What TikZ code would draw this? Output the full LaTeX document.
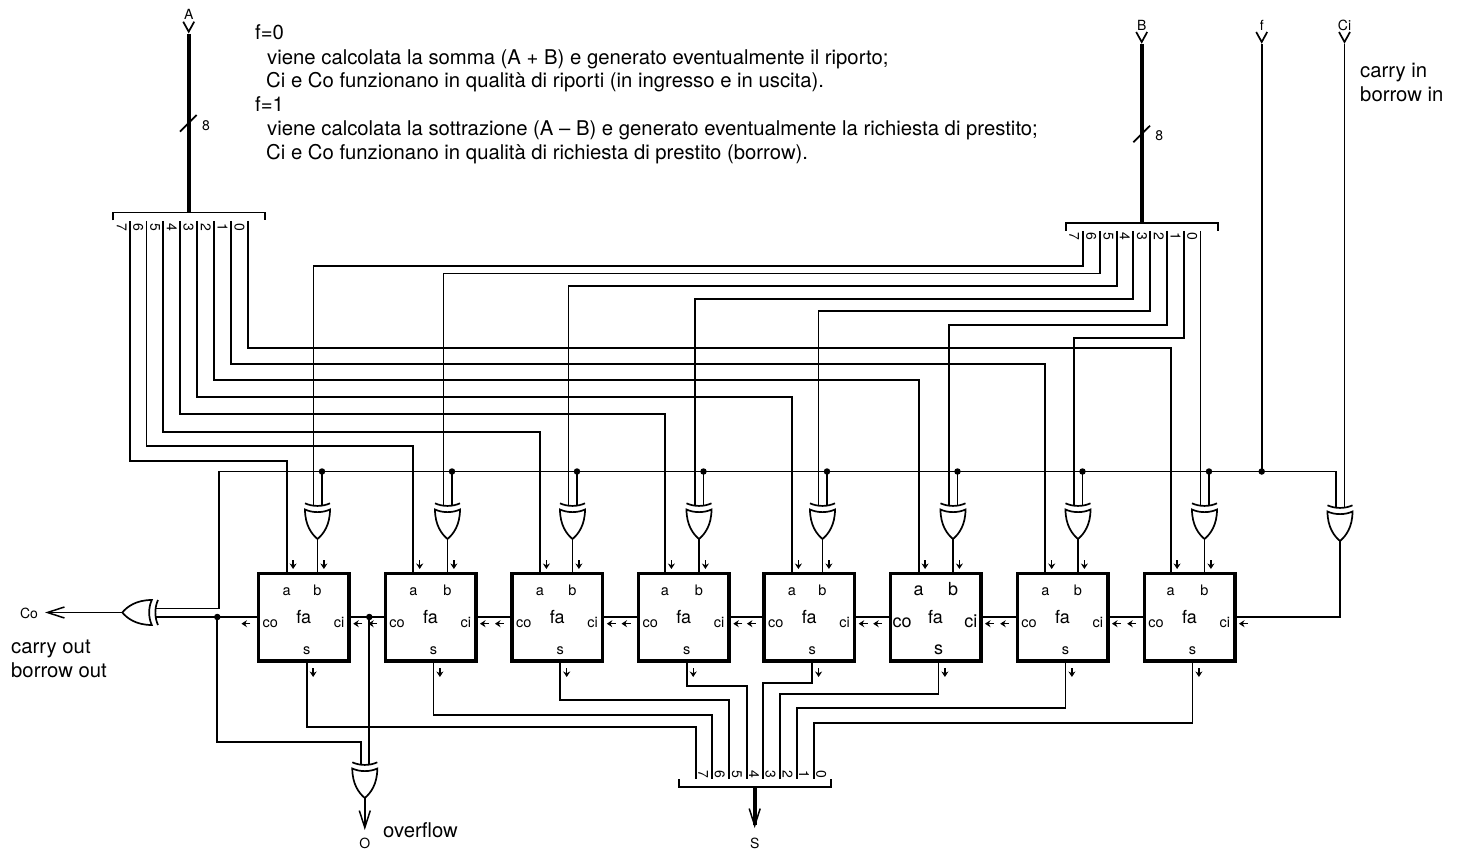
\documentclass[tikz,border=0pt]{standalone}
\usepackage{fontspec}
\setmainfont{TeX Gyre Heros}
\usetikzlibrary{arrows.meta}
\tikzset{
  wire/.style={line width=1.7pt},
  buswire/.style={line width=3.8pt},
  outwire/.style={line width=1.7pt,-{Straight Barb[length=17pt,width=11pt,line width=1.5pt]}},
  smallarrow/.style={line width=1.4pt,-{Stealth[length=5.5pt,width=7pt]}},
  fabox/.style={draw,line width=3.5pt,minimum width=90.5pt,minimum height=87.5pt,inner sep=0pt,font=\fontsize{18}{18}\selectfont},
  junction/.style={circle,fill=black,minimum size=6.5pt,inner sep=0pt},
  pinlabel/.style={inner sep=0pt,font=\fontsize{14}{14}\selectfont},
  notetext/.style={inner sep=0pt,anchor=base west,font=\fontsize{20.3}{20.3}\selectfont},
  xorgate/.pic={
    \draw [wire] (-12.5,-29.5) .. controls (-12.5,-14) and (-6,-5) .. (0,0)
      .. controls (6,-5) and (12.5,-14) .. (12.5,-29.5)
      .. controls (5,-26) and (-5,-26) .. cycle;
    \draw [wire] (-12.5,-35.7) .. controls (-5,-32.2) and (5,-32.2) .. (12.5,-35.7);
    \coordinate (-in1) at (-4,-33);
    \coordinate (-in2) at (4.5,-33);
    \coordinate (-out) at (0,0);
  },
  inhead/.pic={\draw [wire] (-5.5,-10) -- (0,0) -- (5.5,-10);},
}
\begin{document}
\begin{tikzpicture}[x=1pt,y=-1pt]
  \useasboundingbox (0,0) rectangle (1460,850);

  % Marking explanation
  \draw (255,40) node (noteA) [notetext] {f=0};
  \draw (267,64.5) node (noteB) [notetext] {viene calcolata la somma (A + B) e generato eventualmente il riporto;};
  \draw (266,88) node (noteC) [notetext] {Ci e Co funzionano in qualità di riporti (in ingresso e in uscita).};
  \draw (255,112) node (noteD) [notetext] {f=1};
  \draw (267,136) node (noteE) [notetext] {viene calcolata la sottrazione (A – B) e generato eventualmente la richiesta di prestito;};
  \draw (266,159.5) node (noteF) [notetext] {Ci e Co funzionano in qualità di richiesta di prestito (borrow).};
  \draw (1360,77.5) node (noteCin) [notetext] {carry in};
  \draw (1360,101.5) node (noteBin) [notetext] {borrow in};
  \draw (11,653.3) node (noteCout) [notetext] {carry out};
  \draw (11,677.7) node (noteBout) [notetext] {borrow out};
  \draw (383,837.7) node (noteOvf) [notetext] {overflow};

  % Drawing gates and full adders
  \foreach \n/\cx/\ax/\gx/\fs in {7/303.75/286.7/317.5/14.5,6/430.5/413.3/447.5/14.5,5/557.3/540/572.5/14.5,
      4/683.8/665/699/14.5,3/809.2/792/822.5/14.5,2/935.5/918.7/953/18,1/1062.5/1045.3/1078/14.5,0/1189.5/1170.7/1204.5/14.5} {
    \pic (xor\n) at (\gx,539) {xorgate};
    \draw (\cx,617) node (fa\n) [fabox] {fa};
    \coordinate (fa\n-a) at (\ax,572);
    \coordinate (fa\n-b) at (\gx,572);
    \coordinate (fa\n-s) at (\cx+3,662);
    \draw [wire] (xor\n-out) -- (fa\n-b);
    \draw (\ax,595) node (fa\n la) [anchor=base,inner sep=0pt,font=\fontsize{\fs}{\fs}\selectfont] {a};
    \draw (\gx,595) node (fa\n lb) [anchor=base,inner sep=0pt,font=\fontsize{\fs}{\fs}\selectfont] {b};
    \draw (\cx-33.5,627) node (fa\n lco) [anchor=base,inner sep=0pt,font=\fontsize{\fs}{\fs}\selectfont] {co};
    \draw (\cx+35.3,627) node (fa\n lci) [anchor=base,inner sep=0pt,font=\fontsize{\fs}{\fs}\selectfont] {ci};
    \draw (\cx+3,654) node (fa\n ls) [anchor=base,inner sep=0pt,font=\fontsize{\fs}{\fs}\selectfont] {s};
    \draw [smallarrow] ([shift={(6.4,-12)}]fa\n-a) -- ++(0,9);
    \draw [smallarrow] ([shift={(6.4,-12)}]fa\n-b) -- ++(0,9);
    \draw [smallarrow] ([shift={(6.4,6)}]fa\n-s) -- ++(0,9);
    \draw [smallarrow] ([shift={(-6.3,6.7)}]fa\n.west) -- ++(-9,0);
    \draw [smallarrow] ([shift={(11.5,6.7)}]fa\n.east) -- ++(-9,0);
  }
  \pic (xorci) at (1340,541) {xorgate};
  \pic [rotate=-90] (xorco) at (122.3,612.5) {xorgate};
  \pic (xoro) at (364.8,798) {xorgate};

  % Drawing carry chain
  \foreach \n/\m in {0/1,1/2,2/3,3/4,4/5,5/6,6/7}
    \draw [wire] (fa\n.west) -- (fa\m.east);
  \draw [wire] (xorci-out) |- (fa0.east);

  % Drawing bus A
  \pic at (188.7,31.7) {inhead};
  \draw (188.7,19.5) node (labA) [pinlabel,anchor=base] {A};
  \draw [buswire] (188.7,34) -- (188.7,212.5);
  \draw [wire] (180,131.7) -- (196.7,115);
  \draw (206,126) node (widA) [pinlabel] {8};
  \draw [wire] (112.7,220.5) |- (264.7,212.5) -- (264.7,220.5);
  \foreach \n/\x/\lev in {7/130/461,6/146.5/446,5/163.3/432,4/180/414,3/196.7/397,2/214/380,1/230.7/364,0/247.7/348} {
    \coordinate (abus\n) at (\x,221);
    \coordinate (alev\n) at (\x,\lev);
    \draw (\x-8.2,227) node (da\n) [pinlabel,rotate=-90] {\n};
    \draw [wire] (abus\n) -- (alev\n) -| (fa\n-a);
  }

  % Drawing bus B
  \pic at (1141.7,42) {inhead};
  \draw (1141.7,30.5) node (labB) [pinlabel,anchor=base] {B};
  \draw [buswire] (1141.7,44) -- (1141.7,222.7);
  \draw [wire] (1133.3,142.3) -- (1150,125.7);
  \draw (1159.3,136) node (widB) [pinlabel] {8};
  \draw [wire] (1065.7,231) |- (1217.7,222.7) -- (1217.7,231);
  \foreach \n/\x/\lev in {7/1082.7/265.7,6/1099.7/273.5,5/1116.7/285.7,4/1133.3/299,3/1150.3/311,2/1167.3/325,1/1184/338} {
    \coordinate (bbus\n) at (\x,231);
    \coordinate (blev\n) at (\x,\lev);
    \draw [wire] (bbus\n) -- (blev\n) -| (xor\n-in1);
  }
  \coordinate (bbus0) at (1200.5,231);
  \draw [wire] (bbus0) -- (xor0-in1);
  \foreach \n/\x in {7/1082.7,6/1099.7,5/1116.7,4/1133.3,3/1150.3,2/1167.3,1/1184,0/1200.5}
    \draw (\x-8.4,236.7) node (db\n) [pinlabel,rotate=-90] {\n};

  % Drawing line f
  \pic at (1261.7,42) {inhead};
  \draw (1261.7,30.5) node (labf) [pinlabel,anchor=base] {f};
  \coordinate (fin) at (1261.7,44);
  \coordinate (fleft) at (219,471.5);
  \draw [wire] (xorci-in1) |- (fleft) |- (xorco-in1);
  \draw (fin |- fleft) node (dotf) [junction] {};
  \draw [wire] (fin) -- (dotf.center);
  \foreach \n in {0,...,7} {
    \draw (xor\n-in2 |- fleft) node (dot\n) [junction] {};
    \draw [wire] (dot\n.center) -- (xor\n-in2);
  }

  % Drawing line Ci
  \pic at (1344.5,42) {inhead};
  \draw (1344.5,30.5) node (labCi) [pinlabel,anchor=base] {Ci};
  \coordinate (ciin) at (1344.5,44);
  \draw [wire] (ciin) -- (xorci-in2);

  % Drawing line Co and overflow
  \draw (217.3,617) node (dotco) [junction] {};
  \draw (369.3,617) node (dotov) [junction] {};
  \draw [wire] (fa7.west) -- (xorco-in2);
  \coordinate (ovlev) at (217.3,741.7);
  \draw [wire] (dotco.center) -- (ovlev) -| (xoro-in1);
  \draw [wire] (dotov.center) -- (xoro-in2);
  \coordinate (cotip) at (45,612.5);
  \draw [outwire] (xorco-out) -- (cotip);
  \draw (29,618.5) node (labCo) [pinlabel,anchor=base] {Co};
  \coordinate (otip) at (364.8,830);
  \draw [outwire] (xoro-out) -- (otip);
  \draw (364.8,848.5) node (labO) [pinlabel,anchor=base] {O};

  % Drawing bus S
  \draw [wire] (678.7,779.3) |- (831,787.3) -- (831,779.3);
  \foreach \n/\x/\lev in {7/695.7/726.7,6/712.3/715,5/729.3/700,4/746.7/686,3/763/682.7,2/780/694.3,1/796.7/708.3,0/813.7/723.3} {
    \coordinate (sbus\n) at (\x,779);
    \coordinate (slev\n) at (\x,\lev);
    \draw (\x+7.5,774) node (ds\n) [pinlabel,rotate=-90] {\n};
    \draw [wire] (fa\n-s) |- (slev\n) -- (sbus\n);
  }
  \coordinate (sfrom) at (754.7,788);
  \coordinate (stip) at (754.7,828);
  \draw [buswire,-{Straight Barb[length=17pt,width=11pt,line width=1.5pt]}] (sfrom) -- (stip);
  \draw (754.7,848) node (labS) [pinlabel,anchor=base] {S};
\end{tikzpicture}
\end{document}
